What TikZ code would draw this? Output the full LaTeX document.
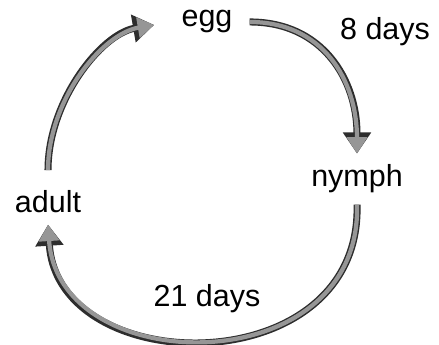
\documentclass[tikz,border=0pt]{standalone}
\usepackage{fontspec}
\setmainfont{Liberation Sans}
\usepackage{tikz}
\usetikzlibrary{arrows.meta}
\definecolor{arrowfill}{RGB}{150,150,150}
\definecolor{arrowedge}{RGB}{45,45,45}
\tikzset{
  stage/.style={font=\fontsize{26}{30}\selectfont, anchor=base, inner sep=8.5pt},
  cyclearrow/.style={line width=3.6pt, draw=arrowfill,
    -{Triangle[length=14pt,width=17pt]},
    preaction={draw=arrowedge, line width=6pt, -{Triangle[length=18pt,width=23pt]}}}
}

\begin{document}
\begin{tikzpicture}[x=0.03cm, y=-0.03cm]
  \useasboundingbox (0,0) rectangle (439,345);
  \node[stage] (egg)    at (207,27)  {egg};
  \node[stage] (days8)  at (385,40)  {8 days};
  \node[stage] (nymph)  at (357,187) {nymph};
  \node[stage] (adult)  at (48,213)  {adult};
  \node[stage] (days21) at (207,307) {21 days};

  \draw[cyclearrow, shorten <=6pt, shorten >=1pt]
    (egg.east) .. controls +(80,0) and +(0,-75) .. (nymph.north);
  \draw[cyclearrow, shorten <=1pt, shorten >=1pt]
    (nymph.south) .. controls +(5,180) and +(10,157) .. (adult.south);
  \draw[cyclearrow, shorten <=9pt, shorten >=15pt]
    (adult.north) .. controls +(0,-80) and +(-70,12) .. (egg.west);
\end{tikzpicture}
\end{document}
